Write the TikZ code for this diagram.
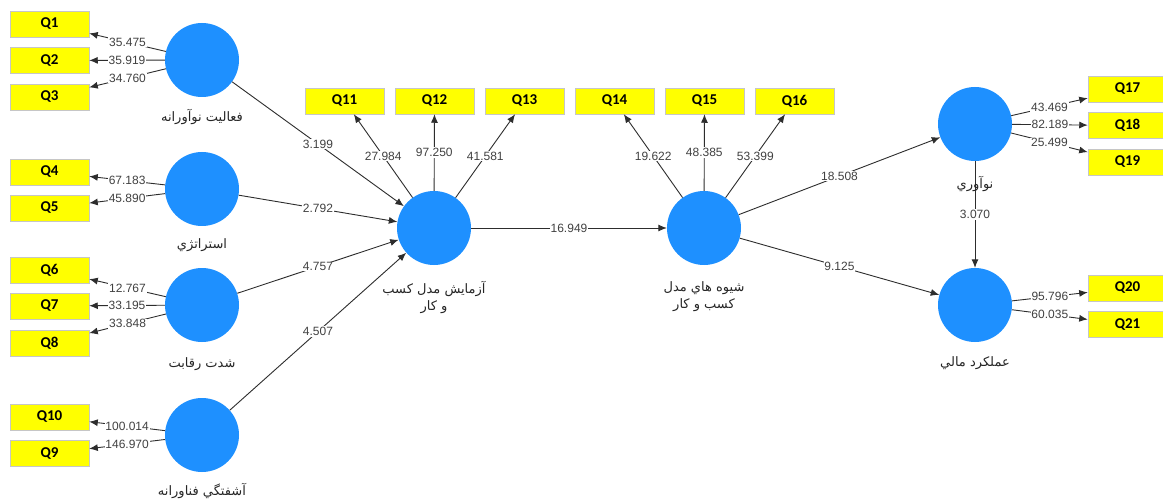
\documentclass[tikz,border=0pt]{standalone}
\usepackage{fontspec}
\setmainfont{Liberation Sans}
\newfontfamily\qfont{Carlito}
\newfontfamily\fafont[Script=Arabic]{DejaVu Sans}
\TeXXeTstate=1
\usetikzlibrary{arrows.meta}
\definecolor{circ}{RGB}{30,144,255}
\definecolor{qy}{RGB}{255,255,0}
\definecolor{ln}{RGB}{45,45,45}
\definecolor{numc}{RGB}{65,65,65}
\tikzset{
 lv/.style={circle, fill=circ, minimum size=74pt, inner sep=0pt},
 ind/.style={rectangle, fill=qy, draw=gray!45, line width=0.5pt, minimum width=79pt, minimum height=26pt, inner sep=0pt, font=\qfont\bfseries\fontsize{15}{15}\selectfont},
 con/.style={draw=ln, line width=0.9pt, -{Latex[length=8.5pt,width=7pt]}},
 wt/.style={fill=white, inner sep=0.8pt, text=numc, font=\fontsize{12}{12}\selectfont, midway},
 fa/.style={font=\fafont\fontsize{13}{17}\selectfont, align=center, text=black!85},
}
\begin{document}
\begin{tikzpicture}[x=1pt,y=-1pt]
\clip (0,0) rectangle (1163,500);
\fill[white] (0,0) rectangle (1163,500);
% latent variables
\node[lv] (L1) at (202,60) {};
\node[lv] (L2) at (202,189) {};
\node[lv] (L3) at (202,305) {};
\node[lv] (L4) at (202,435) {};
\node[lv] (A) at (434,228) {};
\node[lv] (B) at (704,228) {};
\node[lv] (C) at (975,124) {};
\node[lv] (D) at (975,305) {};
% indicators left
\node[ind] (Q1) at (49.5,24) {Q1};
\node[ind] (Q2) at (49.5,60.5) {Q2};
\node[ind] (Q3) at (49.5,97) {Q3};
\node[ind] (Q4) at (49.5,172) {Q4};
\node[ind] (Q5) at (49.5,208) {Q5};
\node[ind] (Q6) at (49.5,270) {Q6};
\node[ind] (Q7) at (49.5,306) {Q7};
\node[ind] (Q8) at (49.5,343) {Q8};
\node[ind] (Q10) at (49.5,417) {Q10};
\node[ind] (Q9) at (49.5,453.5) {Q9};
% indicators top
\node[ind] (Q11) at (344.5,101) {Q11};
\node[ind] (Q12) at (434.5,101) {Q12};
\node[ind] (Q13) at (524.5,101) {Q13};
\node[ind] (Q14) at (614.5,101) {Q14};
\node[ind] (Q15) at (704.5,101) {Q15};
\node[ind] (Q16) at (794.5,101) {Q16};
% indicators right
\node[ind] (Q17) at (1127.5,89) {Q17};
\node[ind] (Q18) at (1127.5,125.5) {Q18};
\node[ind] (Q19) at (1127.5,162) {Q19};
\node[ind] (Q20) at (1127.5,288) {Q20};
\node[ind] (Q21) at (1127.5,324.5) {Q21};
% outer loadings
\draw[con] (L1) -- node[wt]{35.475} (Q1);
\draw[con] (L1) -- node[wt]{35.919} (Q2);
\draw[con] (L1) -- node[wt]{34.760} (Q3);
\draw[con] (L2) -- node[wt]{67.183} (Q4);
\draw[con] (L2) -- node[wt]{45.890} (Q5);
\draw[con] (L3) -- node[wt]{12.767} (Q6);
\draw[con] (L3) -- node[wt]{33.195} (Q7);
\draw[con] (L3) -- node[wt]{33.848} (Q8);
\draw[con] (L4) -- node[wt]{100.014} (Q10);
\draw[con] (L4) -- node[wt]{146.970} (Q9);
\draw[con] (A) -- node[wt]{27.984} (Q11);
\draw[con] (A) -- node[wt]{97.250} (Q12);
\draw[con] (A) -- node[wt]{41.581} (Q13);
\draw[con] (B) -- node[wt]{19.622} (Q14);
\draw[con] (B) -- node[wt]{48.385} (Q15);
\draw[con] (B) -- node[wt]{53.399} (Q16);
\draw[con] (C) -- node[wt]{43.469} (Q17);
\draw[con] (C) -- node[wt]{82.189} (Q18);
\draw[con] (C) -- node[wt]{25.499} (Q19);
\draw[con] (D) -- node[wt]{95.796} (Q20);
\draw[con] (D) -- node[wt]{60.035} (Q21);
% paths
\draw[con] (L1) -- node[wt]{3.199} (A);
\draw[con] (L2) -- node[wt]{2.792} (A);
\draw[con] (L3) -- node[wt]{4.757} (A);
\draw[con] (L4) -- node[wt]{4.507} (A);
\draw[con] (A) -- node[wt]{16.949} (B);
\draw[con] (B) -- node[wt]{18.508} (C);
\draw[con] (B) -- node[wt]{9.125} (D);
\draw[con] (C) -- node[wt]{3.070} (D);
% latent labels
\node[fa] (t1) at (202,117) {\beginR فعاليت نوآورانه\endR};
\node[fa] (t2) at (202,245) {\beginR استراتژي\endR};
\node[fa] (t3) at (202,364) {\beginR شدت رقابت\endR};
\node[fa] (t4) at (202,491) {\beginR آشفتگي فناورانه\endR};
\node[fa] (tA) at (434,297) {\beginR آزمايش مدل كسب\endR\\\beginR و كار\endR};
\node[fa] (tB) at (704,297) {\beginR شيوه هاي مدل\endR\\\beginR كسب و كار\endR};
\node[fa] (tC) at (975,184) {\beginR نوآوري\endR};
\node[fa] (tD) at (975,363) {\beginR عملكرد مالي\endR};
\end{tikzpicture}
\end{document}
